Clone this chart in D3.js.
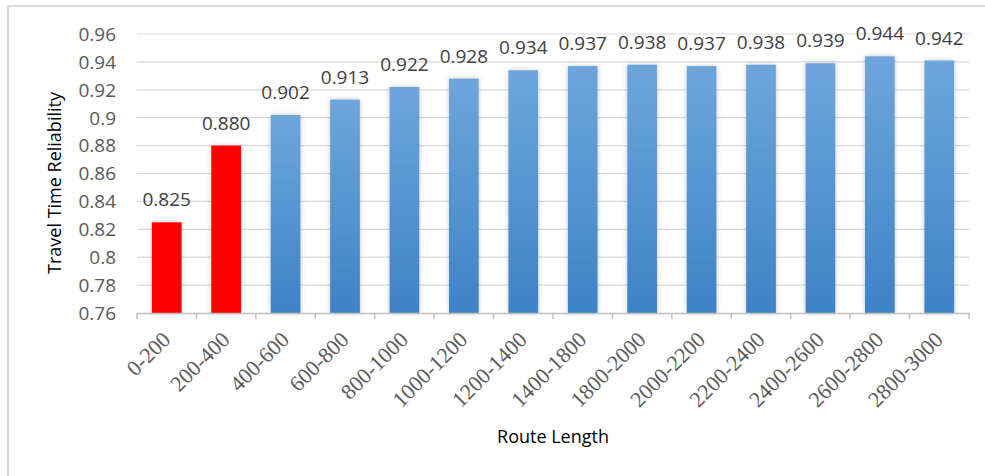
<!DOCTYPE html>
<html>
<head>
<meta charset="utf-8">
<script src="https://cdn.jsdelivr.net/npm/d3@7"></script>
<style>
  html, body { margin: 0; padding: 0; background: #fff; }
  svg { display: block; }
</style>
</head>
<body>
<svg id="chart" width="985" height="476"></svg>
<script>
// Route length bins and reliability values
const categories = ["0-200", "200-400", "400-600", "600-800", "800-1000", "1000-1200", "1200-1400",
  "1400-1800", "1800-2000", "2000-2200", "2200-2400", "2400-2600", "2600-2800", "2800-3000"];
const reliability = [0.825, 0.880, 0.902, 0.913, 0.922, 0.928, 0.934,
  0.937, 0.938, 0.937, 0.938, 0.939, 0.944, 0.941];
const labels = ["0.825", "0.880", "0.902", "0.913", "0.922", "0.928", "0.934",
  "0.937", "0.938", "0.937", "0.938", "0.939", "0.944", "0.942"];
const highlighted = ["0-200", "200-400"];
const yTicks = [0.76, 0.78, 0.8, 0.82, 0.84, 0.86, 0.88, 0.9, 0.92, 0.94, 0.96];

const svg = d3.select("#chart");
const plotLeft = 137, plotRight = 969, plotTop = 34, plotBottom = 313;

// Frame (only top/left edges visible in the reference)
svg.append("path")
  .attr("d", "M8,476 L8,6 L985,6")
  .attr("fill", "none")
  .attr("stroke", "#d9d9d9")
  .attr("stroke-width", 2);

const defs = svg.append("defs");
const grad = defs.append("linearGradient")
  .attr("id", "blueGrad").attr("x1", 0).attr("y1", 0).attr("x2", 0).attr("y2", 1);
grad.append("stop").attr("offset", "0%").attr("stop-color", "#6ea6dc");
grad.append("stop").attr("offset", "100%").attr("stop-color", "#3d83c6");

const shadow = defs.append("filter").attr("id", "shadow")
  .attr("x", "-30%").attr("y", "-10%").attr("width", "160%").attr("height", "120%");
shadow.append("feDropShadow")
  .attr("dx", 0).attr("dy", 0).attr("stdDeviation", 2.5)
  .attr("flood-color", "#000").attr("flood-opacity", 0.22);

const x = d3.scaleBand().domain(categories).range([plotLeft, plotRight]).paddingInner(0.5).paddingOuter(0.25);
const y = d3.scaleLinear().domain([0.76, 0.96]).range([plotBottom, plotTop]);

// Gridlines
svg.append("g").selectAll("line")
  .data(yTicks.slice(1)).join("line")
  .attr("x1", plotLeft).attr("x2", plotRight)
  .attr("y1", d => y(d)).attr("y2", d => y(d))
  .attr("stroke", "#d9d9d9").attr("stroke-width", 1.2);

// Y axis labels
svg.append("g").selectAll("text")
  .data(yTicks).join("text")
  .attr("x", 116).attr("y", d => y(d))
  .attr("dy", "0.36em")
  .attr("text-anchor", "end")
  .attr("font-family", "'Open Sans', sans-serif")
  .attr("font-size", "19px")
  .attr("fill", "#595959")
  .text(d => String(+d.toFixed(2)));

// Bars
svg.append("g").selectAll("rect")
  .data(categories).join("rect")
  .attr("x", d => x(d))
  .attr("width", x.bandwidth())
  .attr("y", (d, i) => y(reliability[i]))
  .attr("height", (d, i) => plotBottom - y(reliability[i]))
  .attr("fill", d => highlighted.includes(d) ? "#ff0000" : "url(#blueGrad)")
  .attr("filter", "url(#shadow)");

// X axis line and ticks
const step = x.step();
const xAxis = svg.append("g");
xAxis.append("line")
  .attr("x1", plotLeft).attr("x2", plotRight).attr("y1", plotBottom + 0.5).attr("y2", plotBottom + 0.5)
  .attr("stroke", "#bfbfbf").attr("stroke-width", 1.5);
xAxis.selectAll("line.tick")
  .data(d3.range(categories.length + 1)).join("line")
  .attr("class", "tick")
  .attr("x1", i => plotLeft + i * step).attr("x2", i => plotLeft + i * step)
  .attr("y1", plotBottom).attr("y2", plotBottom + 6)
  .attr("stroke", "#bfbfbf").attr("stroke-width", 1.5);

// X tick labels, rotated -45
svg.append("g").selectAll("text")
  .data(categories).join("text")
  .attr("transform", d => `translate(${x(d) + x.bandwidth() / 2 + 5},${plotBottom + 28}) rotate(-45)`)
  .attr("text-anchor", "end")
  .attr("font-family", "'Liberation Serif', 'Times New Roman', serif")
  .attr("font-size", "22px")
  .attr("fill", "#595959")
  .text(d => d);

// Data labels
svg.append("g").selectAll("text")
  .data(categories).join("text")
  .attr("x", d => x(d) + x.bandwidth() / 2)
  .attr("y", (d, i) => y(reliability[i]) - 16)
  .attr("text-anchor", "middle")
  .attr("font-family", "'Open Sans', sans-serif")
  .attr("font-size", "19px")
  .attr("fill", "#404040")
  .text((d, i) => labels[i]);

// Axis titles
svg.append("text")
  .attr("transform", `translate(61,183) rotate(-90)`)
  .attr("text-anchor", "middle")
  .attr("font-family", "'Open Sans', sans-serif")
  .attr("font-size", "18px")
  .attr("fill", "#000")
  .text("Travel Time Reliability");

svg.append("text")
  .attr("x", 553).attr("y", 443)
  .attr("text-anchor", "middle")
  .attr("font-family", "'Open Sans', sans-serif")
  .attr("font-size", "18px")
  .attr("fill", "#000")
  .text("Route Length");
</script>
</body>
</html>
